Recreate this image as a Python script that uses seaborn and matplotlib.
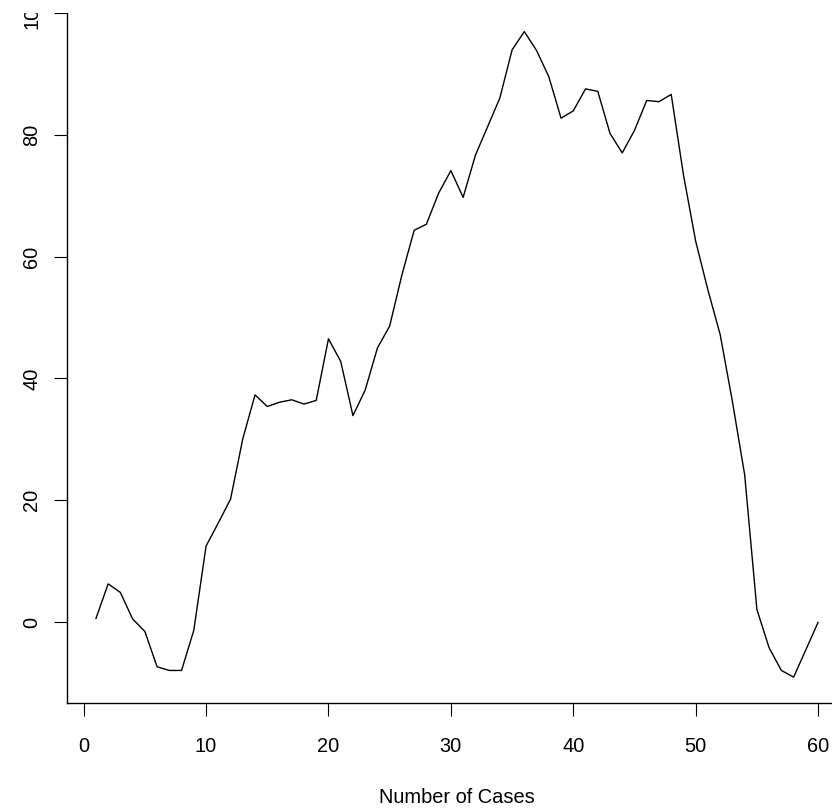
import numpy as np
import pandas as pd
import matplotlib
matplotlib.use("Agg")
import matplotlib.pyplot as plt
import seaborn as sns
from matplotlib.transforms import Bbox, TransformedBbox

# values
cases = list(range(1, 61))
values = [0.6, 6.3, 4.9, 0.55, -1.5, -7.3, -7.9, -7.9, -1.3, 12.5,
          16.3, 20.2, 30.1, 37.3, 35.4, 36.1, 36.5, 35.8, 36.4, 46.5,
          42.8, 33.9, 38.1, 45.0, 48.6, 57.0, 64.3, 65.3, 70.4, 74.1,
          69.7, 76.6, 81.3, 86.0, 93.9, 96.9, 93.8, 89.5, 82.7, 83.9,
          87.5, 87.1, 80.2, 77.0, 80.7, 85.6, 85.4, 86.6, 73.4, 62.5,
          54.5, 47.2, 36.2, 24.2, 2.1, -4.2, -7.9, -9.0, -4.5, 0.0]
x_ticks = [0, 10, 20, 30, 40, 50, 60]
y_ticks = [0, 20, 40, 60, 80, 100]

df = pd.DataFrame({"case": cases, "value": values})

sns.set_style("ticks")
plt.rcParams['font.family'] = ['Liberation Sans', 'DejaVu Sans']

W, H = 832, 808
fig = plt.figure(figsize=(W / 100, H / 100), dpi=100)
# plot region like R's default, right edge runs past the picture
ax = fig.add_axes([67 / W, (H - 703) / H, (847 - 67) / W, (703 - 6) / H])

sns.lineplot(data=df, x="case", y="value", ax=ax, color="black", linewidth=1.0)

ax.set_xlim(-1.36, 62.36)
ax.set_ylim(-13.24, 101.1)
ax.set_xticks(x_ticks)
ax.set_yticks(y_ticks)
ax.set_xticklabels([str(t) for t in x_ticks])
ax.set_yticklabels([str(t) for t in y_ticks], rotation=90, va="center")

for s in ["top", "right"]:
    ax.spines[s].set_visible(False)
for s in ["left", "bottom"]:
    ax.spines[s].set_linewidth(1.0)
    ax.spines[s].set_color("black")

ax.tick_params(axis="both", length=9.5, width=0.8, color="black",
               labelsize=14.4, labelcolor="black")
ax.tick_params(axis="x", pad=15)
ax.tick_params(axis="y", pad=9)

ax.set_xlabel("Number of Cases", fontsize=14.4, labelpad=23, color="black")
ax.set_ylabel("")

# the reference is cut a little below the top, so the 100 label shows half
clip = TransformedBbox(Bbox.from_extents(0, 0, 1, (H - 13) / H), fig.transFigure)
for tick in ax.yaxis.get_major_ticks():
    tick.label1.set_clip_box(clip)
    tick.label1.set_clip_on(True)
    tick.tick1line.set_clip_box(clip)
    tick.tick1line.set_clip_on(True)
ax.spines["left"].set_clip_box(clip)
ax.spines["left"].set_clip_on(True)

plt.savefig("out.png", dpi=100)
plt.close()
